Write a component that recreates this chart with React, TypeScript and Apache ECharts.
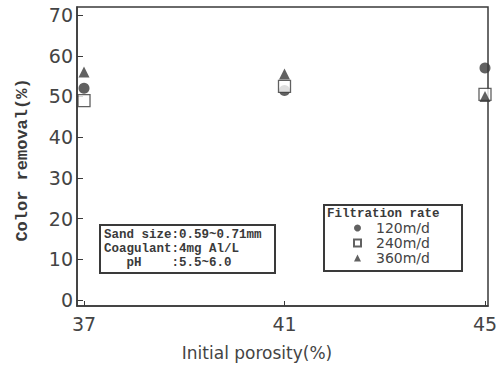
import React, { useEffect, useRef } from "react";
import * as echarts from "echarts";

const porosity = [37, 41, 45];
const rate120 = [52, 51.5, 57];
const rate240 = [49, 52.5, 50.5];
const rate360 = [56, 55.5, 50];
const seriesNames = ["120m/d", "240m/d", "360m/d"];
const yTicks = [0, 10, 20, 30, 40, 50, 60, 70];
const xTicks = [37, 41, 45];
const noteLines = ["Sand size:0.59~0.71mm", "Coagulant:4mg Al/L", "   pH    :5.5~6.0"];

const INK = "#3a3a3a";
const MONO = "'Liberation Mono', 'DejaVu Sans Mono', monospace";
const SANS = "'DejaVu Sans', Verdana, sans-serif";

export default function App() {
  const ref = useRef<HTMLDivElement>(null);
  useEffect(() => {
    const chart = echarts.init(ref.current!, null, { renderer: "svg" });
    const pair = (vals: number[]) => porosity.map((x, i) => [x, vals[i]]);
    chart.setOption({
      animation: false,
      backgroundColor: "#fff",
      grid: {
        left: 77,
        top: 7,
        right: 13,
        bottom: 61,
        show: true,
        borderColor: INK,
        borderWidth: 1.5,
        containLabel: false,
      },
      xAxis: {
        type: "value",
        min: 36.86,
        max: 45.06,
        axisLine: { show: true, onZero: false, lineStyle: { color: INK, width: 1.5 } },
        axisTick: { show: true, inside: true, length: 5, customValues: xTicks, lineStyle: { color: INK } },
        axisLabel: { customValues: xTicks, color: "#444", fontFamily: SANS, fontSize: 19, margin: 8 },
        splitLine: { show: false },
      },
      yAxis: {
        type: "value",
        min: -1.5,
        max: 72,
        axisLine: { show: true, onZero: false, lineStyle: { color: INK, width: 1.5 } },
        axisTick: { show: true, inside: true, length: 6, customValues: yTicks, lineStyle: { color: INK } },
        axisLabel: { customValues: yTicks, color: "#444", fontFamily: SANS, fontSize: 19, margin: 4 },
        splitLine: { show: false },
      },
      legend: {
        show: true,
        orient: "vertical",
        left: 353,
        top: 221,
        itemWidth: 7,
        itemHeight: 7,
        itemGap: 1,
        padding: 0,
        data: seriesNames,
        textStyle: { color: "#444", fontFamily: SANS, fontSize: 14, lineHeight: 14, padding: [0, 0, 0, 10] },
      },
      series: [
        {
          name: seriesNames[0],
          type: "scatter",
          symbol: "circle",
          symbolSize: 11,
          itemStyle: { color: INK },
          data: pair(rate120),
        },
        {
          name: seriesNames[1],
          type: "scatter",
          symbol: "rect",
          symbolSize: 12,
          itemStyle: { color: "#fff", borderColor: INK, borderWidth: 1.3 },
          data: pair(rate240),
        },
        {
          name: seriesNames[2],
          type: "scatter",
          symbol: "triangle",
          symbolSize: 11,
          itemStyle: { color: INK },
          data: pair(rate360),
        },
      ],
      graphic: [
        {
          type: "text",
          x: 22,
          y: 160,
          rotation: Math.PI / 2,
          style: {
            text: "Color removal(%)",
            fontFamily: MONO,
            fontWeight: "bold",
            fontSize: 17,
            fill: INK,
            align: "center",
            verticalAlign: "middle",
          },
        },
        {
          type: "text",
          x: 257,
          y: 353,
          style: {
            text: "Initial porosity(%)",
            fontFamily: SANS,
            fontSize: 17,
            fill: "#444",
            align: "center",
            verticalAlign: "middle",
          },
        },
        {
          type: "rect",
          shape: { x: 100, y: 225, width: 175, height: 48 },
          style: { fill: "#fff", stroke: INK, lineWidth: 2 },
          z: 10,
        },
        {
          type: "text",
          x: 104,
          y: 228,
          z: 11,
          style: {
            text: noteLines.join("\n"),
            fontFamily: MONO,
            fontWeight: "bold",
            fontSize: 12.5,
            lineHeight: 14,
            fill: INK,
          },
        },
        {
          type: "rect",
          shape: { x: 324, y: 205, width: 138, height: 66 },
          style: { fill: "none", stroke: INK, lineWidth: 2 },
          z: 10,
        },
        {
          type: "text",
          x: 327,
          y: 207,
          z: 11,
          style: {
            text: "Filtration rate",
            fontFamily: MONO,
            fontWeight: "bold",
            fontSize: 12.5,
            fill: INK,
          },
        },
      ],
    });
    return () => chart.dispose();
  }, []);
  return <div ref={ref} style={{ width: 501, height: 367, position: "absolute", left: 0, top: 0 }} />;
}
